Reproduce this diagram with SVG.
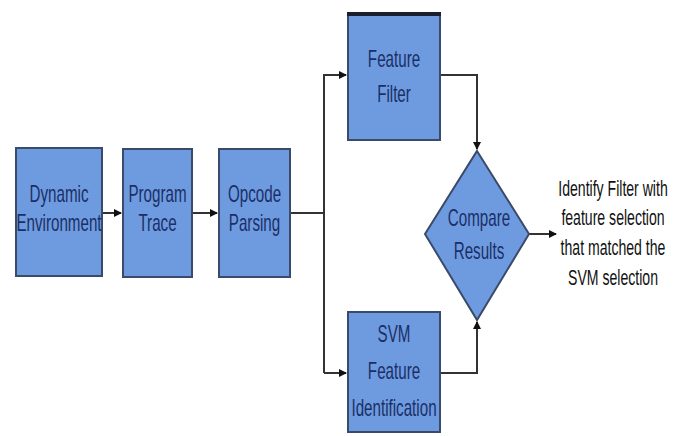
<svg xmlns="http://www.w3.org/2000/svg" width="683" height="436" viewBox="0 0 683 436">
<defs>
<marker id="ah" markerWidth="8" markerHeight="8" refX="7" refY="4" orient="auto" markerUnits="userSpaceOnUse">
<path d="M0,0 L8,4 L0,8 Z" fill="#111"/>
</marker>
<style>
.box{fill:#6e9be0;stroke:#3a4a6a;stroke-width:2}
.t{font-family:"Liberation Sans",Arial,sans-serif;font-size:23px;fill:#1b2f66;text-anchor:middle}
.r{font-family:"Liberation Sans",Arial,sans-serif;font-size:22px;fill:#111;text-anchor:middle}
.c{fill:none;stroke:#333;stroke-width:2}
</style>
</defs>
<rect width="683" height="436" fill="#fff"/>
<g id="connectors">
<path class="c" d="M102,213 H121" marker-end="url(#ah)"/>
<path class="c" d="M192,213 H217" marker-end="url(#ah)"/>
<path class="c" d="M290,213 H324"/>
<path class="c" d="M324,373 V75 H346" marker-end="url(#ah)"/>
<path class="c" d="M324,373 H346" marker-end="url(#ah)"/>
<path class="c" d="M440,75 H477 V149" marker-end="url(#ah)"/>
<path class="c" d="M440,373 H477 V322" marker-end="url(#ah)"/>
<path class="c" d="M529,234 H556" marker-end="url(#ah)"/>
</g>
<g id="dynamic-environment">
<rect class="box" x="16" y="148" width="86" height="128"/>
<text class="t" transform="translate(59,202) scale(0.66,1)">Dynamic</text>
<text class="t" transform="translate(59,231) scale(0.66,1)">Environment</text>
</g>
<g id="program-trace">
<rect class="box" x="123" y="149" width="69" height="128"/>
<text class="t" transform="translate(157.5,202) scale(0.66,1)">Program</text>
<text class="t" transform="translate(157.5,231) scale(0.66,1)">Trace</text>
</g>
<g id="opcode-parsing">
<rect class="box" x="219" y="149" width="71" height="128"/>
<text class="t" transform="translate(254.5,202) scale(0.66,1)">Opcode</text>
<text class="t" transform="translate(254.5,231) scale(0.66,1)">Parsing</text>
</g>
<g id="feature-filter">
<rect class="box" x="348" y="14" width="92" height="126"/>
<line x1="347" y1="14" x2="441" y2="14" stroke="#1a1f2e" stroke-width="4"/>
<text class="t" transform="translate(394,67) scale(0.66,1)">Feature</text>
<text class="t" transform="translate(394,102) scale(0.66,1)">Filter</text>
</g>
<g id="svm-feature-identification">
<rect class="box" x="348" y="312" width="92" height="120"/>
<text class="t" transform="translate(394,342) scale(0.66,1)">SVM</text>
<text class="t" transform="translate(394,379) scale(0.66,1)">Feature</text>
<text class="t" transform="translate(394,416) scale(0.66,1)">Identification</text>
</g>
<g id="compare-results">
<path class="box" d="M477,151 L529,234 L477,320 L425,234 Z"/>
<text class="t" transform="translate(479,226) scale(0.66,1)">Compare</text>
<text class="t" transform="translate(479,259) scale(0.66,1)">Results</text>
</g>
<g id="result-text">
<text class="r" transform="translate(613,196) scale(0.64,1)">Identify Filter with</text>
<text class="r" transform="translate(613,225) scale(0.64,1)">feature selection</text>
<text class="r" transform="translate(613,255) scale(0.64,1)">that matched the</text>
<text class="r" transform="translate(613,285) scale(0.64,1)">SVM selection</text>
</g>
</svg>
